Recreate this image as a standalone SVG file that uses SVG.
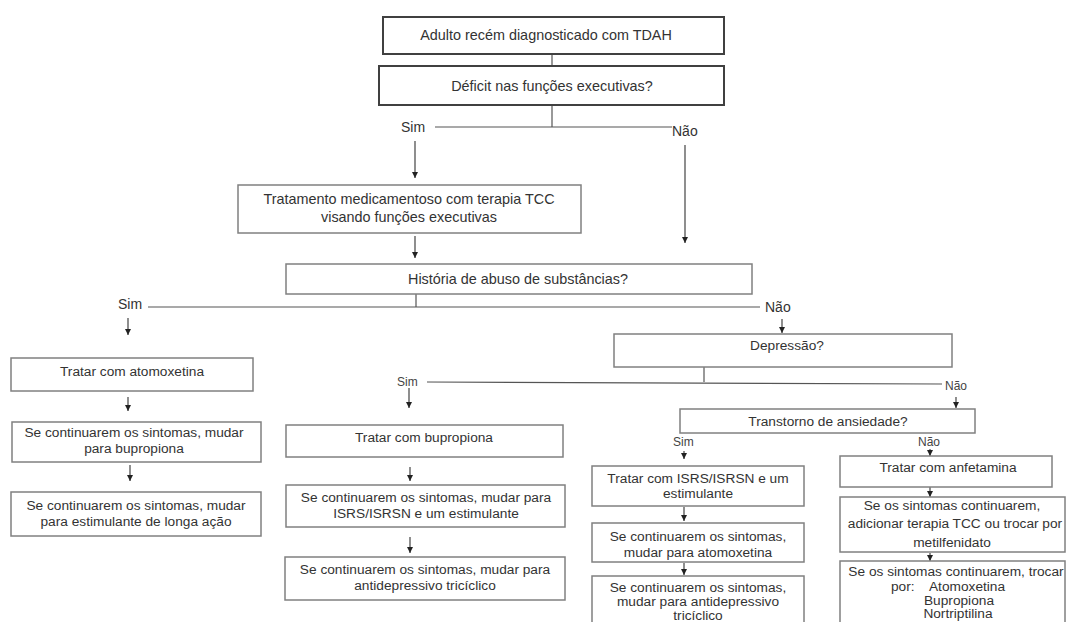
<svg xmlns="http://www.w3.org/2000/svg" width="1068" height="622" viewBox="0 0 1068 622">
<style>
.box{fill:#fff;stroke:#808080;stroke-width:1.5}
.boxd{fill:#fff;stroke:#404040;stroke-width:2}
.t{font-family:"Liberation Sans",Arial,sans-serif;fill:#333;text-anchor:middle}
.big{font-size:14.4px}
.sm{font-size:13.7px}
.lb{font-family:"Liberation Sans",Arial,sans-serif;fill:#333;font-size:14px}
.lbs{font-family:"Liberation Sans",Arial,sans-serif;fill:#444;font-size:12px}
.ln{stroke:#555;stroke-width:1.2;fill:none}
.ar{stroke:#444;stroke-width:1.2;fill:none;marker-end:url(#ah)}
</style>
<defs>
<marker id="ah" viewBox="0 0 10 10" refX="10" refY="5" markerWidth="6" markerHeight="6" markerUnits="userSpaceOnUse" orient="auto">
<path d="M0,0 L10,5 L0,10 z" fill="#222"/>
</marker>
</defs>
<rect width="1068" height="622" fill="#fff"/>
<g id="connectors">
<line class="ln" x1="552" y1="54" x2="552" y2="66"/>
<line class="ln" x1="552" y1="105" x2="552" y2="127"/>
<line class="ln" x1="435" y1="127" x2="672" y2="127"/>
<line class="ar" x1="415" y1="141" x2="415" y2="178"/>
<line class="ar" x1="685" y1="145" x2="685" y2="243"/>
<line class="ar" x1="415" y1="236" x2="415" y2="258"/>
<line class="ln" x1="416" y1="294" x2="416" y2="307"/>
<line class="ln" x1="148" y1="307" x2="760" y2="307"/>
<line class="ar" x1="128" y1="318" x2="128" y2="335"/>
<line class="ar" x1="128" y1="397" x2="128" y2="411"/>
<line class="ar" x1="130" y1="465" x2="130" y2="481"/>
<line class="ar" x1="782" y1="319" x2="782" y2="333"/>
<line class="ln" x1="704" y1="367" x2="704" y2="382"/>
<line class="ln" x1="427" y1="382" x2="942" y2="384"/>
<line class="ar" x1="409" y1="388" x2="409" y2="408"/>
<line class="ar" x1="410" y1="467" x2="410" y2="481"/>
<line class="ar" x1="410" y1="537" x2="410" y2="553"/>
<line class="ar" x1="956" y1="397" x2="956" y2="408"/>
<line class="ar" x1="684" y1="451" x2="684" y2="459"/>
<line class="ar" x1="930" y1="449" x2="930" y2="456"/>
<line class="ar" x1="684" y1="507" x2="684" y2="521"/>
<line class="ar" x1="684" y1="563" x2="684" y2="575"/>
<line class="ar" x1="930" y1="487" x2="930" y2="497"/>
<line class="ar" x1="930" y1="553" x2="930" y2="561"/>
<text class="lb" x="401" y="132">Sim</text>
<text class="lb" x="672" y="136">Não</text>
<text class="lb" x="118" y="309">Sim</text>
<text class="lb" x="765" y="312">Não</text>
<text class="lbs" x="397" y="386">Sim</text>
<text class="lbs" x="945" y="390">Não</text>
<text class="lbs" x="673" y="446">Sim</text>
<text class="lbs" x="918" y="446">Não</text>
</g>
<g id="n1"><rect class="boxd" x="383" y="17" width="341" height="37"/><text class="t big" x="546" y="40">Adulto recém diagnosticado com TDAH</text></g>
<g id="n2"><rect class="boxd" x="379" y="66" width="345" height="39"/><text class="t big" x="552" y="91">Déficit nas funções executivas?</text></g>
<g id="n3"><rect class="box" x="238" y="185" width="343" height="48"/><text class="t big" x="409" y="204">Tratamento medicamentoso com terapia TCC</text><text class="t big" x="409" y="222">visando funções executivas</text></g>
<g id="n4"><rect class="box" x="286" y="264" width="466" height="30"/><text class="t big" x="518" y="284">História de abuso de substâncias?</text></g>
<g id="n5"><rect class="box" x="11" y="358" width="242" height="33"/><text class="t sm" x="132" y="376">Tratar com atomoxetina</text></g>
<g id="n6"><rect class="box" x="12" y="422" width="249" height="40"/><text class="t sm" x="134" y="437">Se continuarem os sintomas, mudar</text><text class="t sm" x="134" y="453">para bupropiona</text></g>
<g id="n7"><rect class="box" x="11" y="492" width="250" height="44"/><text class="t sm" x="136" y="510">Se continuarem os sintomas, mudar</text><text class="t sm" x="136" y="526">para estimulante de longa ação</text></g>
<g id="n8"><rect class="box" x="614" y="334" width="338" height="33"/><text class="t sm" x="787" y="350">Depressão?</text></g>
<g id="n9"><rect class="box" x="286" y="425" width="277" height="32"/><text class="t sm" x="424" y="442">Tratar com bupropiona</text></g>
<g id="n10"><rect class="box" x="286" y="485" width="279" height="42"/><text class="t sm" x="426" y="502">Se continuarem os sintomas, mudar para</text><text class="t sm" x="426" y="518">ISRS/ISRSN e um estimulante</text></g>
<g id="n11"><rect class="box" x="285" y="557" width="280" height="43"/><text class="t sm" x="425" y="574">Se continuarem os sintomas, mudar para</text><text class="t sm" x="425" y="590">antidepressivo tricíclico</text></g>
<g id="n12"><rect class="box" x="680" y="409" width="295" height="24"/><text class="t sm" x="828" y="426">Transtorno de ansiedade?</text></g>
<g id="n13"><rect class="box" x="592" y="466" width="212" height="40"/><text class="t sm" x="698" y="483">Tratar com ISRS/ISRSN e um</text><text class="t sm" x="698" y="498">estimulante</text></g>
<g id="n14"><rect class="box" x="592" y="523" width="212" height="39"/><text class="t sm" x="698" y="541">Se continuarem os sintomas,</text><text class="t sm" x="698" y="557">mudar para atomoxetina</text></g>
<g id="n15"><rect class="box" x="592" y="576" width="212" height="60"/><text class="t sm" x="698" y="592">Se continuarem os sintomas,</text><text class="t sm" x="698" y="606">mudar para antidepressivo</text><text class="t sm" x="698" y="620">tricíclico</text></g>
<g id="n16"><rect class="box" x="840" y="456" width="212" height="31"/><text class="t sm" x="948" y="472">Tratar com anfetamina</text></g>
<g id="n17"><rect class="box" x="840" y="497" width="225" height="55"/><text class="t sm" x="952" y="510">Se os sintomas continuarem,</text><text class="t sm" x="955" y="528">adicionar terapia TCC ou trocar por</text><text class="t sm" x="952" y="547">metilfenidato</text></g>
<g id="n18"><rect class="box" x="840" y="561" width="225" height="70"/><text class="t sm" x="956" y="576">Se os sintomas continuarem, trocar</text><text class="t sm" x="948" y="591" xml:space="preserve">por:    Atomoxetina</text><text class="t sm" x="959" y="605">Bupropiona</text><text class="t sm" x="958" y="618">Nortriptilina</text></g>
</svg>
